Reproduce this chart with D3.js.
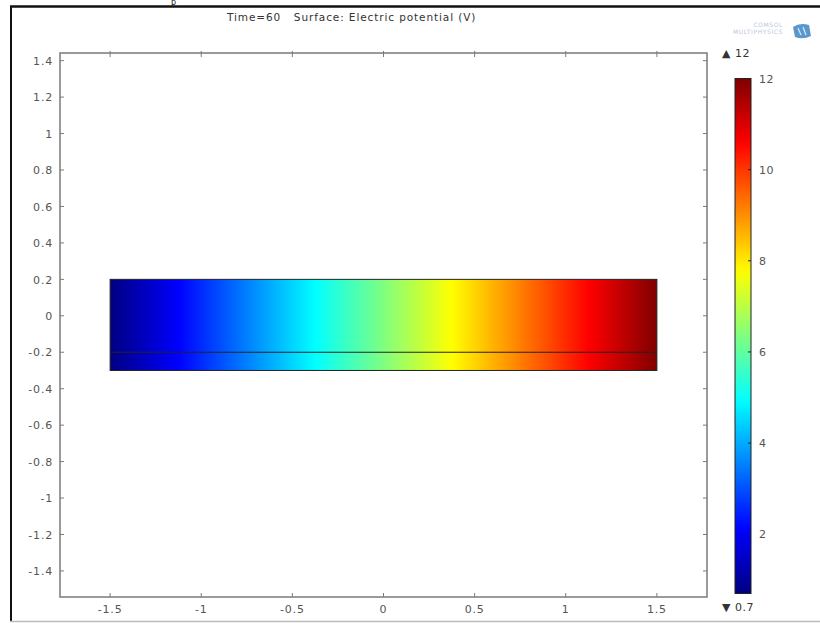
<!DOCTYPE html>
<html>
<head>
<meta charset="utf-8">
<script src="https://cdn.jsdelivr.net/npm/d3@7"></script>
<style>
  html, body { margin: 0; padding: 0; background: #fff; }
  svg { display: block; }
  text { font-family: "DejaVu Sans", sans-serif; }
</style>
</head>
<body>
<svg id="chart" width="820" height="623"></svg>
<script>
// ---- data ----
const titleText = "Time=60   Surface: Electric potential (V)";
const xTicks = [-1.5, -1, -0.5, 0, 0.5, 1, 1.5];
const yTicks = [-1.4, -1.2, -1, -0.8, -0.6, -0.4, -0.2, 0, 0.2, 0.4, 0.6, 0.8, 1, 1.2, 1.4];
const colorbarTicks = [2, 4, 6, 8, 10, 12];
const colorRange = [0.7, 12];           // min / max of the surface
const domainX = [-1.5, 1.5];            // rectangle extent in x
const domainY = [-0.3, 0.2];            // rectangle extent in y
const innerBoundaryY = [-0.2];          // interior boundary line
const potentialX = [-1.5, -1.0, -0.5, 0, 0.5, 1.0, 1.5];
const potentialV = [0.7, 2.58, 4.47, 6.35, 8.23, 10.12, 12];

// ---- setup ----
const svg = d3.select("#chart");
svg.append("rect").attr("width", 820).attr("height", 623).attr("fill", "#fff");

const x = d3.scaleLinear().domain([-1.775, 1.775]).range([60, 707]);
const y = d3.scaleLinear().domain([-1.543, 1.442]).range([597, 53]);

function jet(t) {
  const c = v => Math.max(0, Math.min(1, v));
  const r = c(1.5 - Math.abs(4 * t - 3));
  const g = c(1.5 - Math.abs(4 * t - 2));
  const b = c(1.5 - Math.abs(4 * t - 1));
  return d3.rgb(r * 255, g * 255, b * 255).formatHex();
}
const color = d3.scaleSequential(jet).domain(colorRange);

const defs = svg.append("defs");

// outer page borders
svg.append("line").attr("x1", 10).attr("x2", 820).attr("y1", 6.5).attr("y2", 6.5)
  .attr("stroke", "#111").attr("stroke-width", 2.5);
svg.append("line").attr("x1", 11).attr("x2", 11).attr("y1", 6).attr("y2", 621)
  .attr("stroke", "#111").attr("stroke-width", 2);
svg.append("line").attr("x1", 10).attr("x2", 820).attr("y1", 621.5).attr("y2", 621.5)
  .attr("stroke", "#bbb").attr("stroke-width", 1.5);
// glyph above the border (from the surrounding page)
svg.append("text").attr("x", 171).attr("y", 5).attr("font-family", "Liberation Serif")
  .attr("font-size", 8).attr("fill", "#111").text("p");

// title
svg.append("text").attr("x", 227).attr("y", 21).attr("font-size", 10.5)
  .attr("letter-spacing", 0.9)
  .attr("fill", "#333").attr("xml:space", "preserve").style("white-space", "pre").text(titleText);

// logo
const logo = svg.append("g").attr("fill", "#b9c9e0");
logo.append("text").attr("x", 783).attr("y", 27).attr("text-anchor", "end")
  .attr("font-size", 6).attr("letter-spacing", 0.6).text("COMSOL");
logo.append("text").attr("x", 783).attr("y", 34).attr("text-anchor", "end")
  .attr("font-size", 6).attr("letter-spacing", 0.6).text("MULTIPHYSICS");
logo.append("path").attr("d", "M793,27 Q800,22 809,25 L811,36 Q803,40 795,37 Z")
  .attr("fill", "#5a98cc");
logo.append("path").attr("d", "M798,28 L801,35 M803,27 L806,35").attr("stroke", "#dbe8f5")
  .attr("stroke-width", 1.2).attr("fill", "none");

// ---- surface (one gradient built from the potential samples) ----
const x0 = x(domainX[0]), x1 = x(domainX[1]);
const sgrad = defs.append("linearGradient").attr("id", "surf")
  .attr("gradientUnits", "userSpaceOnUse")
  .attr("x1", x0).attr("x2", x1).attr("y1", 0).attr("y2", 0);
for (let i = 0; i < potentialX.length - 1; i++) {
  const n = 24;
  for (let k = 0; k <= n; k++) {
    const v = potentialV[i] + (potentialV[i + 1] - potentialV[i]) * k / n;
    const px = x(potentialX[i]) + (x(potentialX[i + 1]) - x(potentialX[i])) * k / n;
    sgrad.append("stop").attr("offset", ((px - x0) / (x1 - x0) * 100) + "%")
      .attr("stop-color", color(v));
  }
}
svg.append("rect")
  .attr("x", x0).attr("y", y(domainY[1]))
  .attr("width", x1 - x0)
  .attr("height", y(domainY[0]) - y(domainY[1]))
  .attr("fill", "url(#surf)")
  .attr("stroke", "#222").attr("stroke-width", 1);
svg.selectAll(".inner").data(innerBoundaryY).enter().append("line")
  .attr("x1", x0).attr("x2", x1)
  .attr("y1", d => y(d)).attr("y2", d => y(d))
  .attr("stroke", "#222").attr("stroke-width", 1);

// ---- axes frame ----
const axisColor = "#7a7a7a";
const labelColor = "#555";
svg.append("rect").attr("x", 60).attr("y", 53).attr("width", 647).attr("height", 544)
  .attr("fill", "none").attr("stroke", axisColor).attr("stroke-width", 1.5);

const fmt = d => String(+d.toFixed(2));
const tl = 4;
// x ticks (bottom & top, inward)
svg.selectAll(".xtb").data(xTicks).enter().append("line")
  .attr("x1", d => x(d)).attr("x2", d => x(d)).attr("y1", 597).attr("y2", 597 - tl)
  .attr("stroke", axisColor);
svg.selectAll(".xtt").data(xTicks).enter().append("line")
  .attr("x1", d => x(d)).attr("x2", d => x(d)).attr("y1", 51).attr("y2", 53 + tl)
  .attr("stroke", axisColor);
svg.selectAll(".xl").data(xTicks).enter().append("text")
  .attr("x", d => x(d)).attr("y", 613).attr("text-anchor", "middle")
  .attr("font-size", 11).attr("letter-spacing", 0.8).attr("fill", labelColor)
  .text(fmt);
// y ticks (left & right, inward)
svg.selectAll(".ytl").data(yTicks).enter().append("line")
  .attr("x1", 60).attr("x2", 60 + tl).attr("y1", d => y(d)).attr("y2", d => y(d))
  .attr("stroke", axisColor);
svg.selectAll(".ytr").data(yTicks).enter().append("line")
  .attr("x1", 707).attr("x2", 707 - tl).attr("y1", d => y(d)).attr("y2", d => y(d))
  .attr("stroke", axisColor);
svg.selectAll(".yl").data(yTicks).enter().append("text")
  .attr("x", 53).attr("y", d => y(d)).attr("dy", "0.38em").attr("text-anchor", "end")
  .attr("font-size", 11).attr("letter-spacing", 0.8).attr("fill", labelColor)
  .text(fmt);

// ---- colorbar ----
const cb = d3.scaleLinear().domain(colorRange).range([593.5, 78.5]);
const cbg = defs.append("linearGradient").attr("id", "cbgrad")
  .attr("x1", "0%").attr("x2", "0%").attr("y1", "100%").attr("y2", "0%");
d3.range(0, 61).forEach(k => {
  const v = colorRange[0] + (colorRange[1] - colorRange[0]) * k / 60;
  cbg.append("stop").attr("offset", (k / 60 * 100) + "%").attr("stop-color", color(v));
});
svg.append("rect").attr("x", 735).attr("y", cb(colorRange[1]))
  .attr("width", 16).attr("height", cb(colorRange[0]) - cb(colorRange[1]))
  .attr("fill", "url(#cbgrad)").attr("stroke", "#222").attr("stroke-width", 1);
svg.selectAll(".cbt").data(colorbarTicks).enter().append("line")
  .attr("x1", 751).attr("x2", 748).attr("y1", d => cb(d)).attr("y2", d => cb(d))
  .attr("stroke", "#222");
svg.selectAll(".cbl").data(colorbarTicks).enter().append("text")
  .attr("x", 759).attr("y", d => cb(d)).attr("dy", "0.38em")
  .attr("font-size", 11).attr("letter-spacing", 0.5).attr("fill", labelColor)
  .text(d => d);
svg.append("text").attr("x", 722).attr("y", 53).attr("dy", "0.38em")
  .attr("font-size", 11).attr("letter-spacing", 0.5).attr("fill", "#333")
  .text("\u25B2 " + colorRange[1]);
svg.append("text").attr("x", 722).attr("y", 607).attr("dy", "0.38em")
  .attr("font-size", 11).attr("letter-spacing", 0.5).attr("fill", "#333")
  .text("\u25BC " + colorRange[0]);
</script>
</body>
</html>
